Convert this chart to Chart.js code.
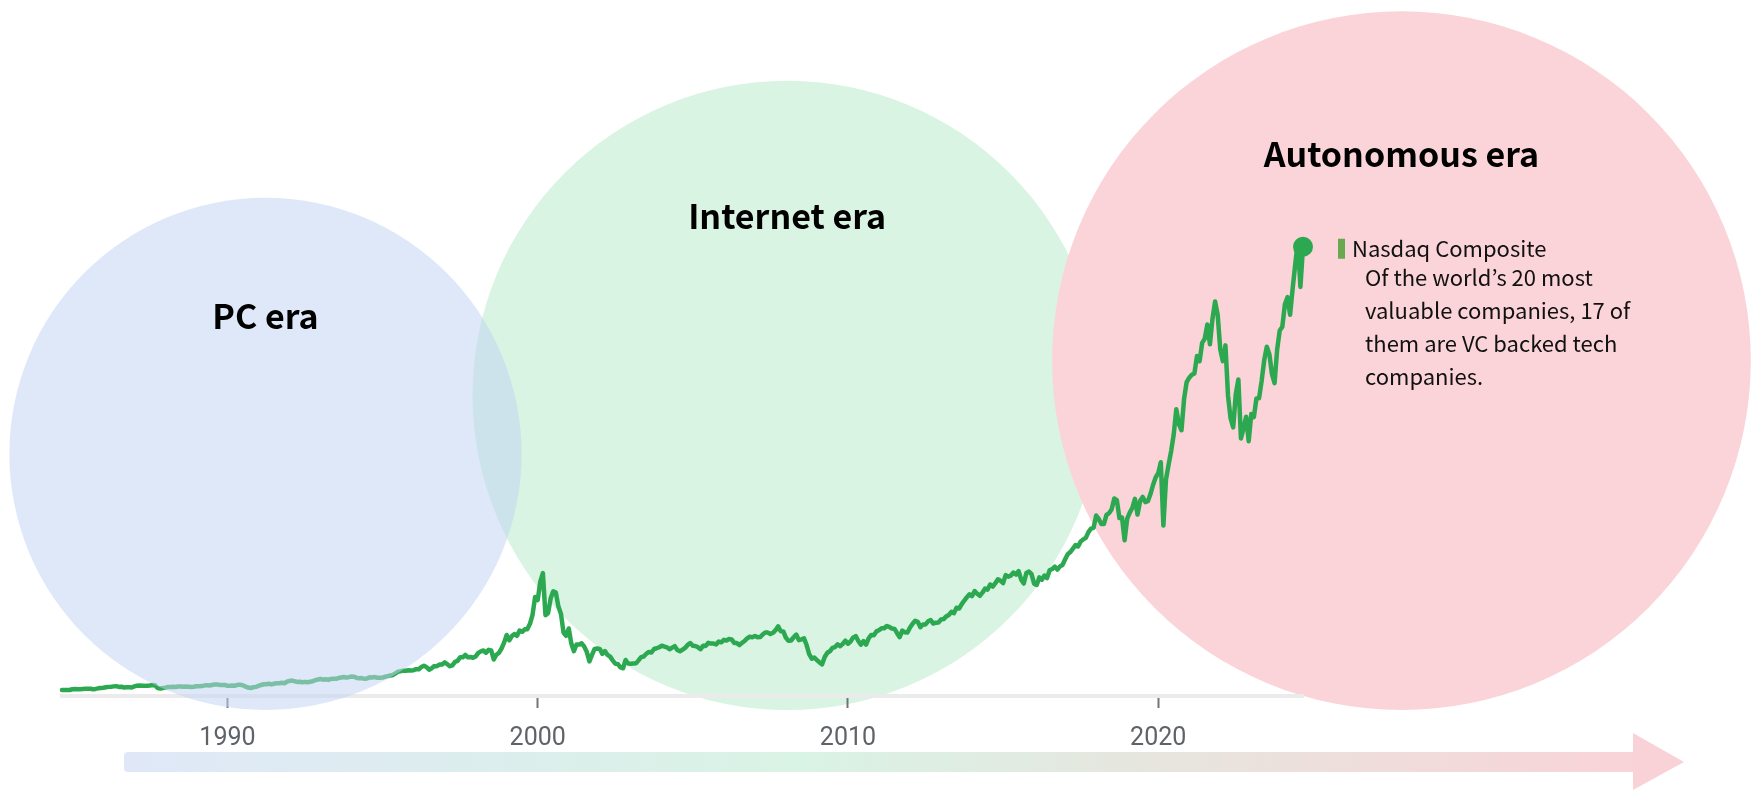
<!DOCTYPE html>
<html>
<head>
<meta charset="utf-8">
<title>Nasdaq Composite through three tech eras</title>
<script src="https://cdn.jsdelivr.net/npm/chart.js@4.4.1/dist/chart.umd.min.js"></script>
<style>
  html, body { margin: 0; padding: 0; background: #fff; }
  #wrap { width: 1759px; height: 792px; position: relative; }
</style>
</head>
<body>
<div id="wrap"><canvas id="eraChart"></canvas></div>
<script>
// Nasdaq Composite, one value per month starting Sep 1984
const firstMonth = 1984 + 8 / 12;
const nasdaq1980s = [
  249, 247, 242, 247,
  278, 284, 280, 281, 290, 296, 301, 298, 280, 292, 314, 325,
  336, 359, 375, 383, 395, 405, 372, 381, 350, 360, 359, 349,
  392, 424, 430, 417, 416, 424, 434, 454, 444, 323, 305, 331,
  344, 367, 374, 379, 370, 394, 387, 376, 387, 383, 371, 381,
  401, 399, 406, 428, 446, 435, 453, 469, 472, 456, 456, 454
];
const nasdaq1990s = [
  416, 425, 435, 421, 458, 462, 438, 381, 345, 329, 359, 374,
  414, 453, 482, 484, 506, 475, 502, 525, 527, 542, 523, 586,
  620, 633, 603, 579, 585, 563, 581, 563, 583, 605, 652, 677,
  696, 670, 690, 661, 700, 704, 705, 742, 763, 779, 754, 777,
  800, 793, 743, 733, 735, 706, 722, 766, 764, 777, 750, 752,
  755, 793, 817, 843, 864, 933, 1001, 1020, 1044, 1036, 1059, 1052,
  1060, 1100, 1101, 1191, 1243, 1185, 1081, 1141, 1227, 1222, 1293, 1291,
  1380, 1309, 1222, 1261, 1400, 1442, 1594, 1587, 1686, 1594, 1601, 1570,
  1619, 1771, 1835, 1869, 1779, 1895, 1872, 1499, 1694, 1771, 1950, 2193,
  2506, 2288, 2461, 2543, 2471, 2686, 2638, 2739, 2746, 2966, 3336, 4069
];
const nasdaq2000s = [
  3940, 4696, 5048, 3321, 3400, 4000, 4300, 4250, 3673, 3370, 2598, 2471,
  2773, 2152, 1840, 2116, 2110, 2161, 2027, 1805, 1423, 1690, 1931, 1950,
  1934, 1731, 1845, 1688, 1616, 1463, 1328, 1315, 1172, 1140, 1479, 1336,
  1321, 1337, 1341, 1464, 1596, 1623, 1735, 1810, 1787, 1932, 1960, 2003,
  2066, 2030, 1994, 1920, 1987, 2048, 1887, 1838, 1897, 1975, 2097, 2175,
  2062, 2052, 1999, 1922, 2068, 2057, 2185, 2152, 2152, 2120, 2233, 2205,
  2306, 2281, 2340, 2323, 2179, 2172, 2091, 2184, 2258, 2367, 2432, 2415,
  2464, 2416, 2422, 2525, 2605, 2603, 2546, 2596, 2702, 2859, 2661, 2652,
  2390, 2271, 2279, 2413, 2523, 2293, 2326, 2368, 2092, 1721, 1536, 1577,
  1476, 1377, 1300, 1600, 1774, 1835, 1979, 2009, 2122, 2045, 2145, 2269
];
const nasdaq2010s = [
  2147, 2238, 2398, 2461, 2257, 2109, 2255, 2114, 2369, 2507, 2498, 2653,
  2700, 2782, 2781, 2874, 2835, 2774, 2756, 2579, 2415, 2684, 2620, 2605,
  2814, 2967, 3092, 3046, 2827, 2935, 2940, 3067, 3116, 2977, 3010, 3020,
  3142, 3160, 3268, 3329, 3456, 3403, 3626, 3590, 3771, 3920, 4060, 4177,
  4104, 4308, 4199, 4115, 4243, 4408, 4370, 4580, 4493, 4631, 4792, 4736,
  4635, 4964, 4901, 4941, 5070, 4987, 5128, 4777, 4620, 5054, 5109, 5007,
  4614, 4558, 4870, 4775, 4948, 4843, 5162, 5213, 5312, 5189, 5324, 5383,
  5615, 5825, 5912, 6048, 6199, 6140, 6348, 6429, 6496, 6728, 6874, 6903,
  7411, 7273, 7063, 7066, 7442, 7510, 7672, 8110, 8046, 7306, 7331, 6400,
  7282, 7533, 7729, 8095, 7453, 8006, 8175, 7963, 7999, 8292, 8665, 8973
];
const nasdaq2020s = [
  9151, 9600, 7000, 8890, 9490, 10059, 10745, 11775, 11168, 10912, 12199, 12888,
  13071, 13192, 13247, 13962, 13749, 14504, 14673, 15259, 14449, 15498, 16200, 15645,
  14240, 13751, 14400, 12335, 11400, 11029, 12391, 13000, 10576, 10988, 11468, 10466,
  11585, 11456, 12222, 12227, 12935, 13788, 14346, 14035, 13219, 12851, 14226, 15011,
  15164, 16092, 16379, 15658, 16735, 17733, 18650, 16800, 18450
];

const tickYears = [1990, 2000, 2010, 2020];
const axisStart = firstMonth;
const axisEnd = 2024 + 8 / 12;

// eras, as the span of years each circle covers
const eraNames = ['PC era', 'Internet era', 'Autonomous era'];
const eraFrom = [1982.97, 1997.9, 2016.58];
const eraTo = [1999.48, 2018.18, 2039.1];

const seriesName = 'Nasdaq Composite';
const noteLines = [
  'Of the world\u2019s 20 most',
  'valuable companies, 17 of',
  'them are VC backed tech',
  'companies.'
];

const monthly = [...nasdaq1980s, ...nasdaq1990s, ...nasdaq2000s, ...nasdaq2010s, ...nasdaq2020s];
const points = monthly.map((v, i) => ({ x: firstMonth + i / 12, y: v }));
const lastIndex = points.length - 1;

const eraFills = ['rgba(195,212,242,0.53)', '#d9f4e3', '#fad4d8'];
const titleLift = [0.54, 0.57, 0.59];
const textFont = '"Noto Sans CJK KR", "Noto Sans CJK SC", "Noto Sans", sans-serif';

function eraCircle(chart, i) {
  const xs = chart.scales.x;
  const left = xs.getPixelForValue(eraFrom[i]);
  const right = xs.getPixelForValue(eraTo[i]);
  const r = (right - left) / 2;
  const bottom = chart.chartArea.bottom + 14;
  return { cx: left + r, cy: bottom - r, r: r };
}

function drawEra(chart, i) {
  const ctx = chart.ctx;
  const c = eraCircle(chart, i);
  ctx.save();
  ctx.fillStyle = eraFills[i];
  ctx.beginPath();
  ctx.arc(c.cx, c.cy, c.r, 0, Math.PI * 2);
  ctx.fill();
  ctx.restore();
}

const eraPlugin = {
  id: 'eras',
  beforeDraw(chart) {
    const ctx = chart.ctx;
    // timeline arrow along the bottom
    ctx.save();
    const grad = ctx.createLinearGradient(124, 0, 1634, 0);
    grad.addColorStop(0, '#e0e8f8');
    grad.addColorStop(0.45, '#d9f3e4');
    grad.addColorStop(1, '#f9d3d7');
    ctx.fillStyle = grad;
    ctx.beginPath();
    ctx.roundRect(124, 752, 1510, 20, [4, 0, 0, 4]);
    ctx.fill();
    ctx.fillStyle = '#f9d2d7';
    ctx.beginPath();
    ctx.moveTo(1633, 733);
    ctx.lineTo(1684, 762);
    ctx.lineTo(1633, 790);
    ctx.closePath();
    ctx.fill();
    ctx.restore();

    // internet and autonomous eras go under the axis and the line
    drawEra(chart, 1);
    drawEra(chart, 2);
  },
  afterDatasetsDraw(chart) {
    // the PC era circle is laid over the early part of the line
    drawEra(chart, 0);
  },
  afterDraw(chart) {
    const ctx = chart.ctx;
    ctx.save();
    ctx.textAlign = 'center';
    ctx.textBaseline = 'middle';
    ctx.fillStyle = '#000';
    ctx.font = 'bold 34px ' + textFont;
    eraNames.forEach((name, i) => {
      const c = eraCircle(chart, i);
      ctx.fillText(name, c.cx, c.cy - c.r * titleLift[i]);
    });

    // series label next to the last point
    const last = chart.getDatasetMeta(0).data[lastIndex];
    const px = last.x, py = last.y;
    ctx.fillStyle = '#6aa84f';
    ctx.fillRect(px + 35, py - 8, 7, 20);
    ctx.textAlign = 'left';
    ctx.fillStyle = '#111';
    ctx.font = '22px ' + textFont;
    ctx.fillText(seriesName, px + 49, py + 2);
    noteLines.forEach((line, i) => {
      ctx.fillText(line, px + 62, py + 31 + i * 33);
    });
    ctx.restore();
  }
};

new Chart(document.getElementById('eraChart'), {
  type: 'line',
  data: {
    datasets: [{
      label: seriesName,
      data: points,
      borderColor: '#2ca850',
      backgroundColor: '#2ca850',
      borderWidth: 4.5,
      borderJoinStyle: 'round',
      borderCapStyle: 'round',
      tension: 0,
      fill: false,
      clip: false,
      pointRadius: ctx => ctx.dataIndex === lastIndex ? 10 : 0,
      pointBorderWidth: 0,
      pointBackgroundColor: '#2ca850'
    }]
  },
  options: {
    responsive: true,
    maintainAspectRatio: false,
    animation: false,
    events: [],
    layout: { padding: { left: 62, right: 456, top: 209, bottom: 0 } },
    scales: {
      x: {
        type: 'linear',
        min: axisStart,
        max: axisEnd,
        afterBuildTicks: axis => { axis.ticks = tickYears.map(v => ({ value: v })); },
        afterFit: axis => { axis.height = 96; },
        grid: { drawOnChartArea: false, drawTicks: true, tickLength: 12, tickWidth: 2, tickColor: '#70757a' },
        border: { display: true, color: '#ebebeb', width: 4 },
        ticks: {
          color: '#5f6368',
          font: { family: 'Roboto', size: 25 },
          padding: 16,
          maxRotation: 0,
          callback: v => String(v)
        }
      },
      y: { display: false, min: 0, max: 20000 }
    },
    plugins: {
      legend: { display: false },
      tooltip: { enabled: false },
      title: { display: false }
    }
  },
  plugins: [eraPlugin]
});
</script>
</body>
</html>
